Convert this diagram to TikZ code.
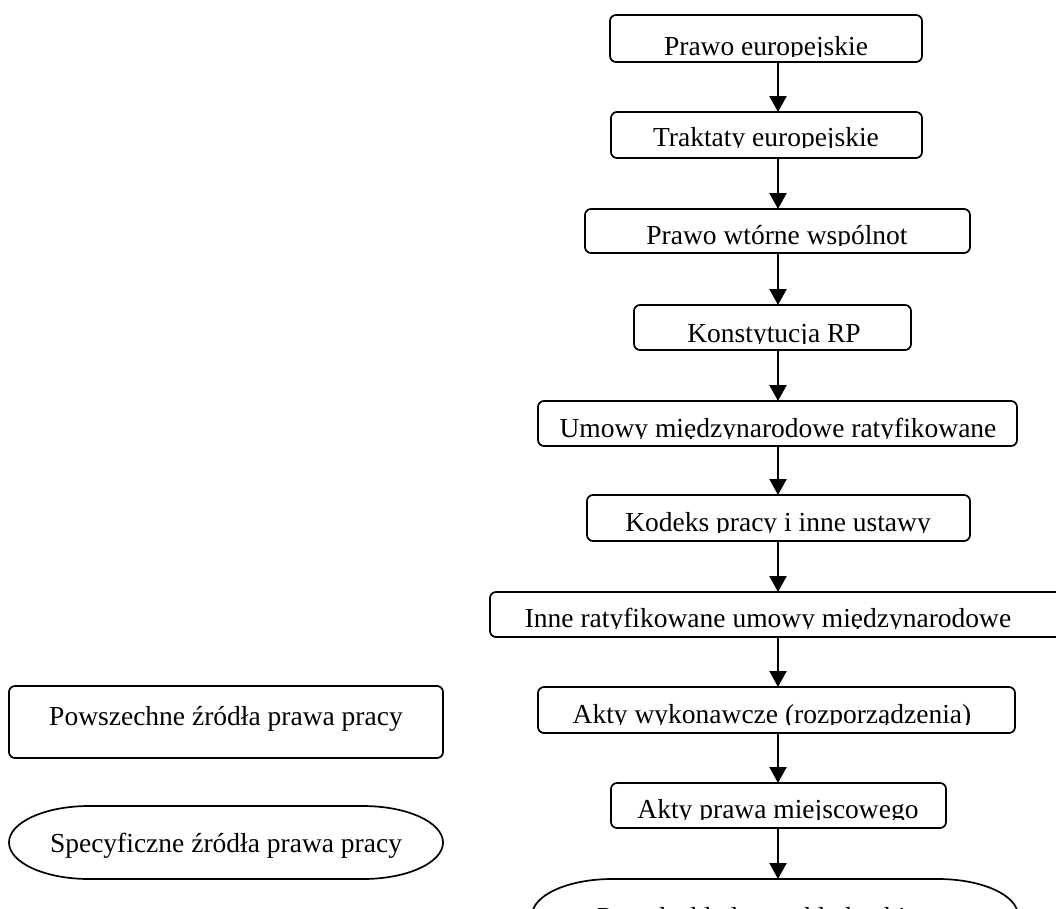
\documentclass[tikz,border=0pt]{standalone}
\usepackage{fontspec}
\setmainfont{Liberation Serif}
\usetikzlibrary{arrows.meta}
% #1 name, #2 L, #3 T, #4 R, #5 B, #6 text x, #7 baseline, #8 text
\newcommand{\lawbox}[8]{%
  \node[box, minimum width={#4-#2}, minimum height={#5-#3}] (#1) at ({(#2+#4)/2},{(#3+#5)/2}) {};
  \begin{scope}
    \clip (#2,#3) rectangle (#4,{#7+1.5});
    \node[txt, anchor=base] (#1t) at (#6,#7) {#8};
  \end{scope}}
% #1 name, #2 L, #3 T, #4 R, #5 B
\newcommand{\pillshape}[5]{%
  \node[inner sep=0pt, outer sep=0pt, minimum width={#4-#2}, minimum height={#5-#3}] (#1) at ({(#2+#4)/2},{(#3+#5)/2}) {};
  \draw[pill] ({#2+80},#3) -- ({#4-80},#3)
     arc[start angle=90, end angle=-90, x radius=80pt, y radius=36.5pt]
     -- ({#2+80},#5)
     arc[start angle=270, end angle=90, x radius=80pt, y radius=36.5pt] -- cycle;}
\begin{document}
\begin{tikzpicture}[x=1pt,y=-1pt,
  box/.style={draw, line width=1.7pt, rounded corners=6pt, inner sep=0pt, outer sep=0pt},
  txt/.style={inner sep=0pt, font=\fontsize{27.5}{32}\selectfont},
  arr/.style={line width=2.2pt, -{Triangle[length=16pt,width=17pt]}},
  pill/.style={draw, line width=1.7pt}]
\clip (0,0) rectangle (1056,908);
\fill[white] (0,0) rectangle (1056,908);
\coordinate (spine) at (778,0);

\lawbox{b1}{610}{15}{922}{62}{766}{55}{Prawo europejskie}
\lawbox{b2}{611}{112}{922}{158}{766}{146}{Traktaty europejskie}
\lawbox{b3}{585}{209}{970}{253}{777}{244}{Prawo wtórne wspólnot}
\lawbox{b4}{634}{305}{911}{350}{774}{342}{Konstytucja RP}
\lawbox{b5}{538}{401}{1017}{446}{778}{437}{Umowy międzynarodowe ratyfikowane}
\lawbox{b6}{587}{495}{970}{541}{778}{531}{Kodeks pracy i inne ustawy}
\lawbox{b7}{490}{592}{1062}{637}{768}{627}{Inne ratyfikowane umowy międzynarodowe}
\lawbox{b8}{538}{687}{1015}{733}{772}{723}{Akty wykonawcze (rozporządzenia)}
\lawbox{b9}{611}{783}{946}{828}{778}{818}{Akty prawa miejscowego}

\pillshape{b10}{532}{879}{1018}{952}
\node[txt, anchor=base west] (b10t) at (597,926) {Ponadzakładowe układy zbiorowe};

\node[box, minimum width=434, minimum height=72] (pow) at (226,722) {};
\node[txt, anchor=base] (powt) at (226,725) {Powszechne źródła prawa pracy};

\pillshape{spec}{9}{806}{443}{879}
\node[txt, anchor=base] (spect) at (226,852) {Specyficzne źródła prawa pracy};

\draw[arr] (b1.south -| spine) -- (b2.north -| spine);
\draw[arr] (b2.south -| spine) -- (b3.north -| spine);
\draw[arr] (b3.south -| spine) -- (b4.north -| spine);
\draw[arr] (b4.south -| spine) -- (b5.north -| spine);
\draw[arr] (b5.south -| spine) -- (b6.north -| spine);
\draw[arr] (b6.south -| spine) -- (b7.north -| spine);
\draw[arr] (b7.south -| spine) -- (b8.north -| spine);
\draw[arr] (b8.south -| spine) -- (b9.north -| spine);
\draw[arr] (b9.south -| spine) -- (b10.north -| spine);
\end{tikzpicture}
\end{document}
